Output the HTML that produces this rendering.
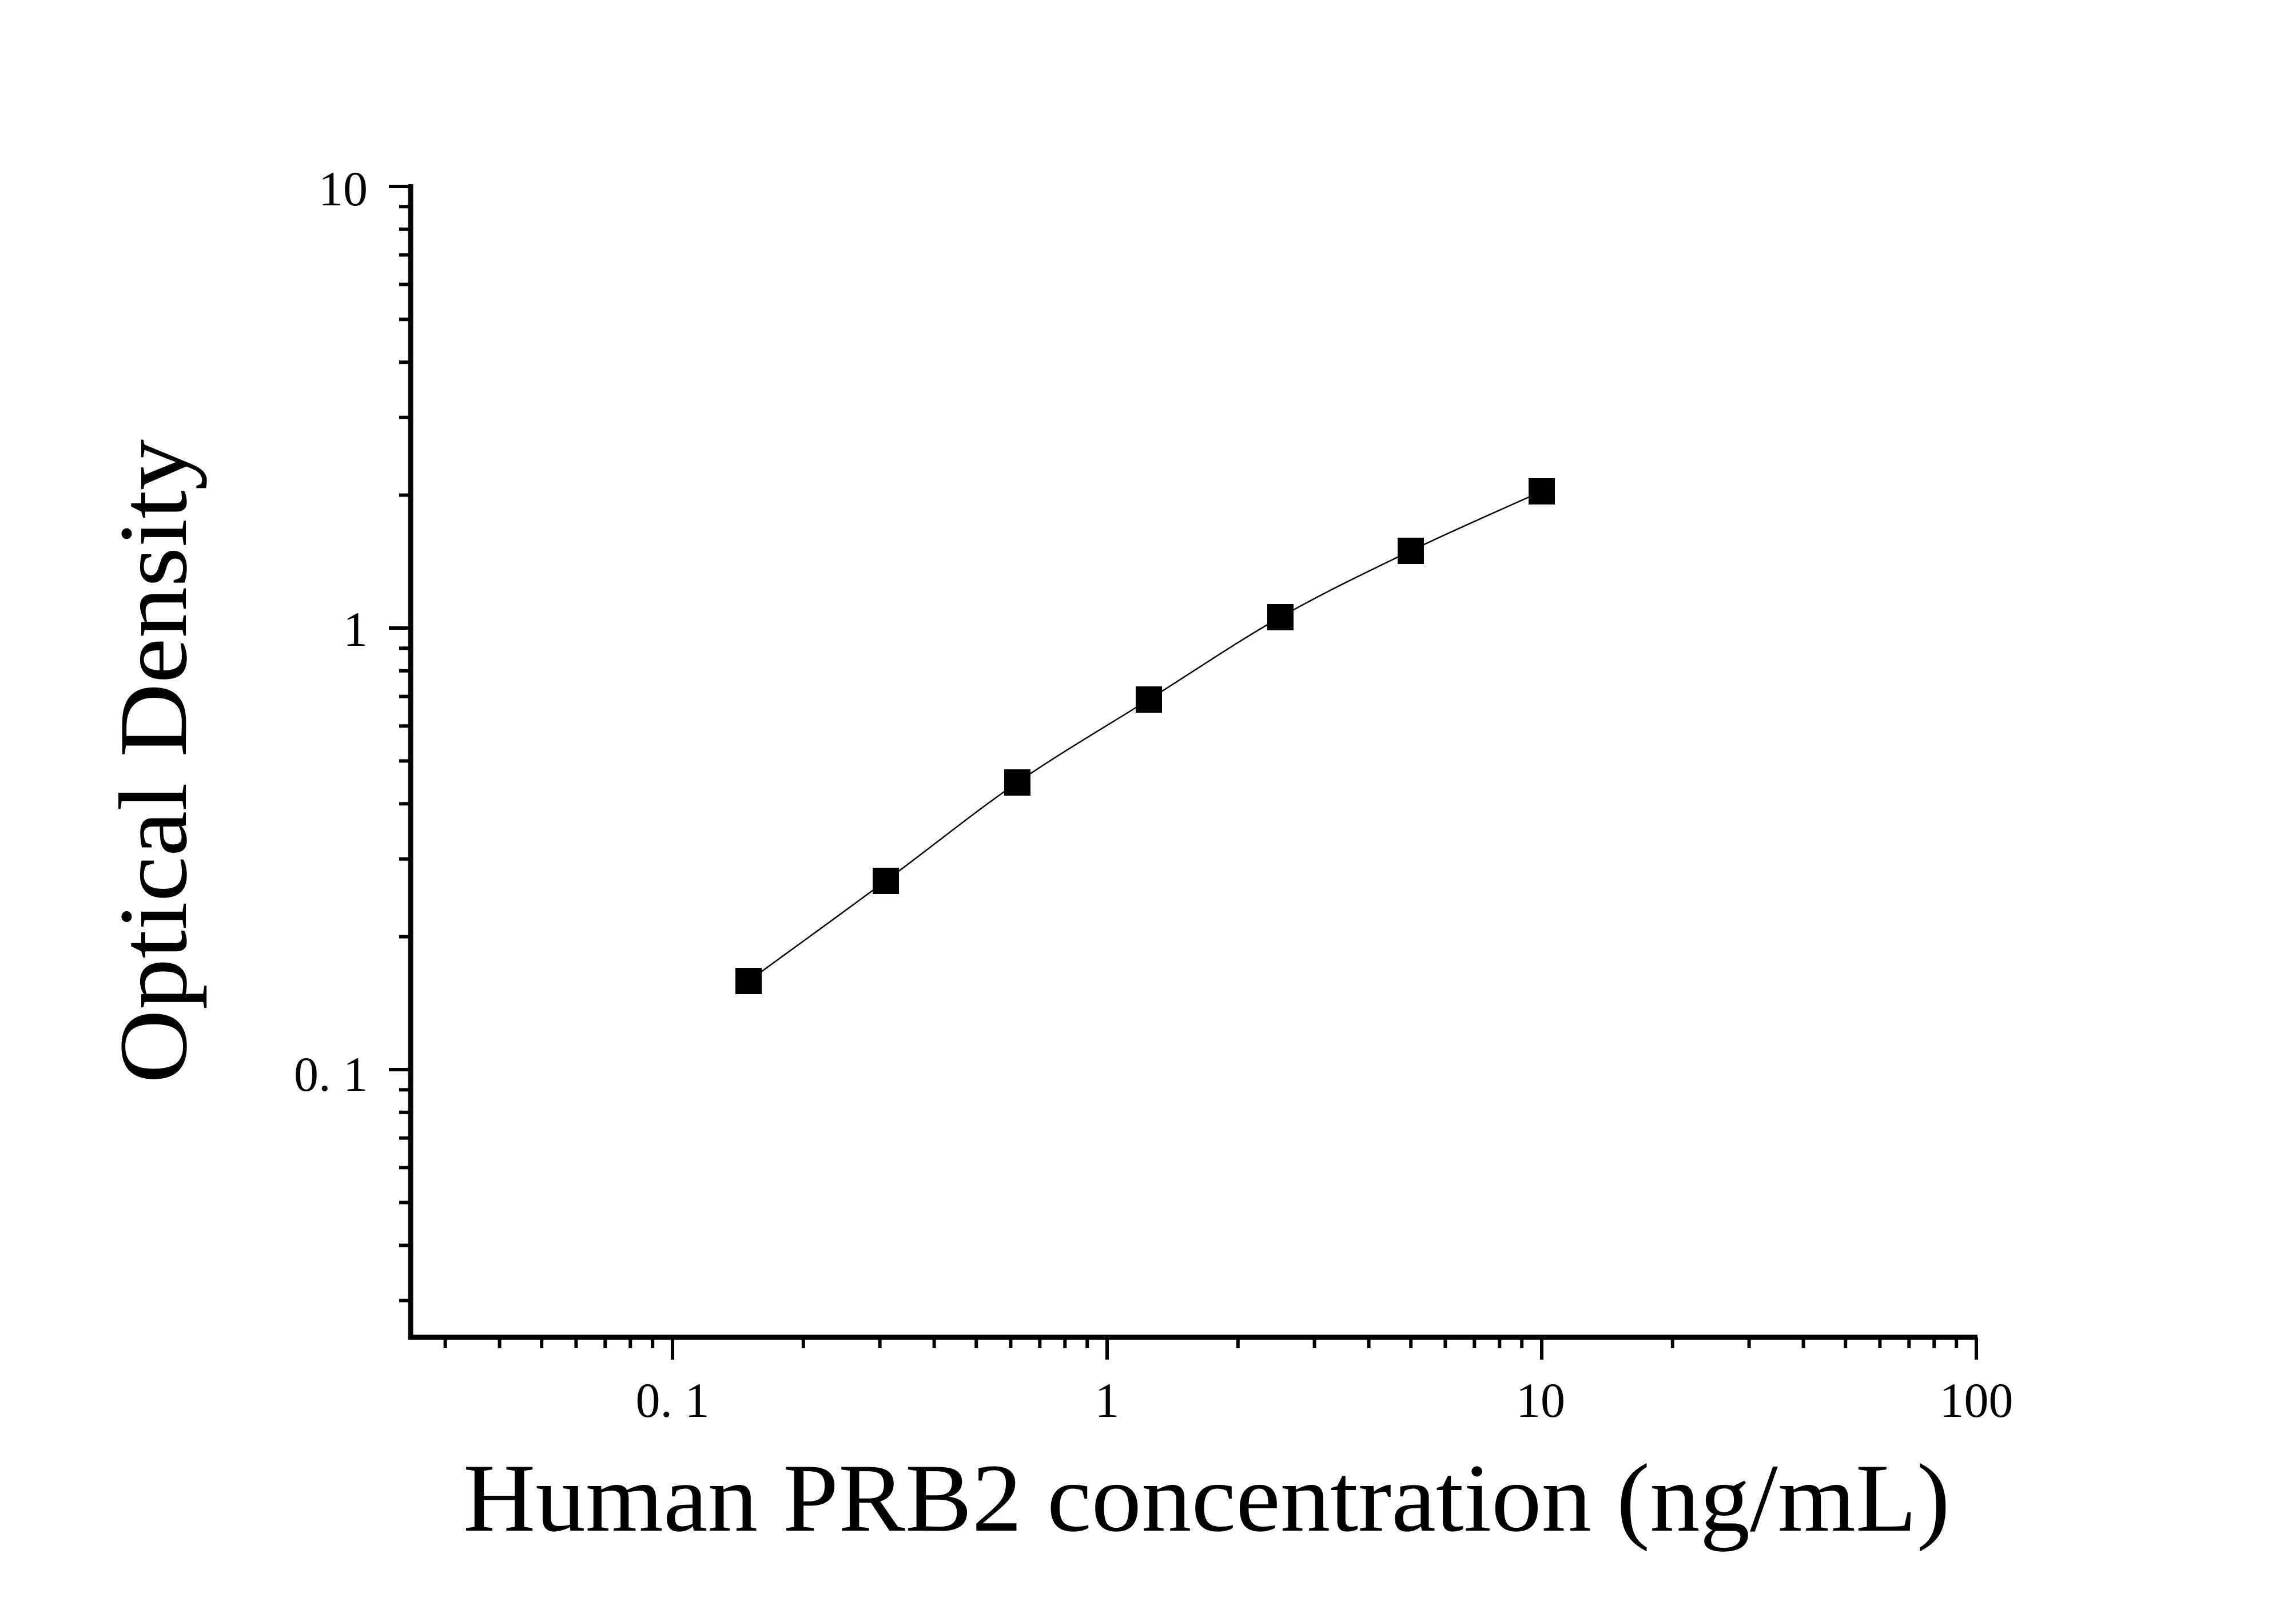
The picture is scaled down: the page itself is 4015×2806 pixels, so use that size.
<!DOCTYPE html>
<html><head><meta charset="utf-8"><style>html,body{margin:0;padding:0;background:#fff}svg{display:block}</style></head>
<body>
<svg width="4015" height="2806" viewBox="0 0 4015 2806" xmlns="http://www.w3.org/2000/svg">
<rect width="4015" height="2806" fill="#fff"/>
<g stroke="#000" stroke-width="6">
<line x1="680" y1="326" x2="718" y2="326"/>
<line x1="698" y1="361.3" x2="718" y2="361.3"/>
<line x1="698" y1="400.8" x2="718" y2="400.8"/>
<line x1="698" y1="445.6" x2="718" y2="445.6"/>
<line x1="698" y1="497.3" x2="718" y2="497.3"/>
<line x1="698" y1="558.4" x2="718" y2="558.4"/>
<line x1="698" y1="633.2" x2="718" y2="633.2"/>
<line x1="698" y1="729.7" x2="718" y2="729.7"/>
<line x1="698" y1="865.6" x2="718" y2="865.6"/>
<line x1="680" y1="1098" x2="718" y2="1098"/>
<line x1="698" y1="1133.3" x2="718" y2="1133.3"/>
<line x1="698" y1="1172.8" x2="718" y2="1172.8"/>
<line x1="698" y1="1217.6" x2="718" y2="1217.6"/>
<line x1="698" y1="1269.3" x2="718" y2="1269.3"/>
<line x1="698" y1="1330.4" x2="718" y2="1330.4"/>
<line x1="698" y1="1405.2" x2="718" y2="1405.2"/>
<line x1="698" y1="1501.7" x2="718" y2="1501.7"/>
<line x1="698" y1="1637.6" x2="718" y2="1637.6"/>
<line x1="680" y1="1870" x2="718" y2="1870"/>
<line x1="698" y1="1905.3" x2="718" y2="1905.3"/>
<line x1="698" y1="1944.8" x2="718" y2="1944.8"/>
<line x1="698" y1="1989.6" x2="718" y2="1989.6"/>
<line x1="698" y1="2041.3" x2="718" y2="2041.3"/>
<line x1="698" y1="2102.4" x2="718" y2="2102.4"/>
<line x1="698" y1="2177.2" x2="718" y2="2177.2"/>
<line x1="698" y1="2273.7" x2="718" y2="2273.7"/>
<line x1="778.6" y1="2338" x2="778.6" y2="2357"/>
<line x1="873.6" y1="2338" x2="873.6" y2="2357"/>
<line x1="947.2" y1="2338" x2="947.2" y2="2357"/>
<line x1="1007.4" y1="2338" x2="1007.4" y2="2357"/>
<line x1="1058.3" y1="2338" x2="1058.3" y2="2357"/>
<line x1="1102.3" y1="2338" x2="1102.3" y2="2357"/>
<line x1="1141.2" y1="2338" x2="1141.2" y2="2357"/>
<line x1="1176" y1="2338" x2="1176" y2="2377"/>
<line x1="1404.8" y1="2338" x2="1404.8" y2="2357"/>
<line x1="1538.6" y1="2338" x2="1538.6" y2="2357"/>
<line x1="1633.6" y1="2338" x2="1633.6" y2="2357"/>
<line x1="1707.2" y1="2338" x2="1707.2" y2="2357"/>
<line x1="1767.4" y1="2338" x2="1767.4" y2="2357"/>
<line x1="1818.3" y1="2338" x2="1818.3" y2="2357"/>
<line x1="1862.3" y1="2338" x2="1862.3" y2="2357"/>
<line x1="1901.2" y1="2338" x2="1901.2" y2="2357"/>
<line x1="1936" y1="2338" x2="1936" y2="2377"/>
<line x1="2164.8" y1="2338" x2="2164.8" y2="2357"/>
<line x1="2298.6" y1="2338" x2="2298.6" y2="2357"/>
<line x1="2393.6" y1="2338" x2="2393.6" y2="2357"/>
<line x1="2467.2" y1="2338" x2="2467.2" y2="2357"/>
<line x1="2527.4" y1="2338" x2="2527.4" y2="2357"/>
<line x1="2578.3" y1="2338" x2="2578.3" y2="2357"/>
<line x1="2622.3" y1="2338" x2="2622.3" y2="2357"/>
<line x1="2661.2" y1="2338" x2="2661.2" y2="2357"/>
<line x1="2696" y1="2338" x2="2696" y2="2377"/>
<line x1="2924.8" y1="2338" x2="2924.8" y2="2357"/>
<line x1="3058.6" y1="2338" x2="3058.6" y2="2357"/>
<line x1="3153.6" y1="2338" x2="3153.6" y2="2357"/>
<line x1="3227.2" y1="2338" x2="3227.2" y2="2357"/>
<line x1="3287.4" y1="2338" x2="3287.4" y2="2357"/>
<line x1="3338.3" y1="2338" x2="3338.3" y2="2357"/>
<line x1="3382.3" y1="2338" x2="3382.3" y2="2357"/>
<line x1="3421.2" y1="2338" x2="3421.2" y2="2357"/>
<line x1="3456" y1="2338" x2="3456" y2="2377"/>
</g>
<line x1="718" y1="322" x2="718" y2="2342" stroke="#000" stroke-width="9"/>
<line x1="714" y1="2338" x2="3458" y2="2338" stroke="#000" stroke-width="9"/>
<path fill="none" stroke="#000" stroke-width="2.5" d="M1309,1715 C1349,1685.8 1470.7,1597.8 1549,1540 C1627.3,1482.2 1702.3,1420.8 1779,1368 C1855.7,1315.2 1932.3,1271.2 2009,1223 C2085.7,1174.8 2162.7,1122.3 2239,1079 C2315.3,1035.7 2390.8,999.7 2467,963 C2543.2,926.3 2657.8,876.3 2696,859"/>
<g fill="#000">
<rect x="1286" y="1692" width="46" height="46"/>
<rect x="1526" y="1517" width="46" height="46"/>
<rect x="1756" y="1345" width="46" height="46"/>
<rect x="1986" y="1200" width="46" height="46"/>
<rect x="2216" y="1056" width="46" height="46"/>
<rect x="2444" y="940" width="46" height="46"/>
<rect x="2673" y="836" width="46" height="46"/>
</g>
<g font-family="Liberation Serif, serif" font-size="86" fill="#000">
<text x="643" y="359" text-anchor="end">10</text>
<text x="643" y="1129" text-anchor="end">1</text>
<text x="643" y="1907" text-anchor="end">0. 1</text>
<text x="1176" y="2477" text-anchor="middle">0. 1</text>
<text x="1936" y="2477" text-anchor="middle">1</text>
<text x="2694" y="2477" text-anchor="middle">10</text>
<text x="3456" y="2477" text-anchor="middle">100</text>
</g>
<text x="2110" y="2676" text-anchor="middle" font-family="Liberation Serif, serif" font-size="170" textLength="2600" lengthAdjust="spacingAndGlyphs">Human PRB2 concentration (ng/mL)</text>
<text transform="translate(325,1331) rotate(-90)" text-anchor="middle" font-family="Liberation Serif, serif" font-size="170" textLength="1126" lengthAdjust="spacingAndGlyphs">Optical Density</text>
</svg>
</body></html>
